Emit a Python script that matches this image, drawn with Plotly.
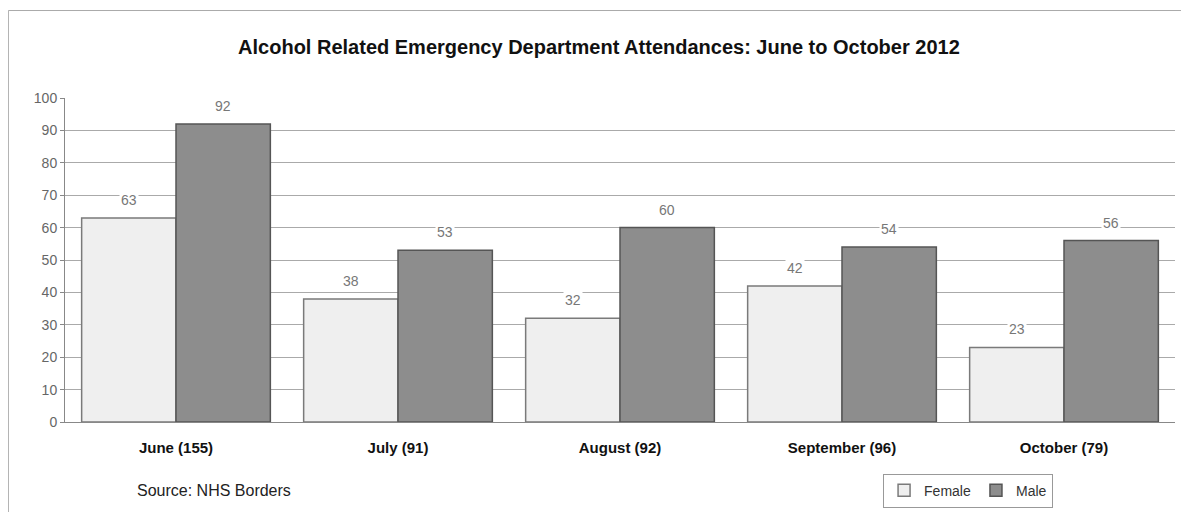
import plotly.graph_objects as go

months = ["June (155)", "July (91)", "August (92)", "September (96)", "October (79)"]
female = [63, 38, 32, 42, 23]
male = [92, 53, 60, 54, 56]

fig = go.Figure()
fig.add_trace(go.Bar(
    x=months, y=female, name="Female",
    marker=dict(color="#efefef", line=dict(color="#7a7a7a", width=1.5)),
))
fig.add_trace(go.Bar(
    x=months, y=male, name="Male",
    marker=dict(color="#8d8d8d", line=dict(color="#555555", width=1.5)),
))

# value labels with white background (they cut through the gridlines)
for vals, shift in ((female, -47), (male, 47)):
    for m, v in zip(months, vals):
        fig.add_annotation(x=m, y=v, xshift=shift, yshift=18, text=str(v),
                           showarrow=False, bgcolor="white",
                           font=dict(size=14, color="#777777"))

fig.add_annotation(text="Source: NHS Borders", xref="paper", yref="paper",
                   x=0.063, y=-0.212, xanchor="left", yanchor="middle",
                   showarrow=False, font=dict(size=16, color="#222222"))

# outer frame of the chart
fig.add_shape(type="rect", xref="paper", yref="paper",
              x0=-0.051, x1=1.007, y0=-0.35, y1=1.27,
              line=dict(color="#aaaaaa", width=1))

fig.update_layout(
    width=1189, height=512,
    margin=dict(l=57, r=22, t=90, b=96),
    paper_bgcolor="white", plot_bgcolor="white",
    font=dict(family="Liberation Sans, Arial, sans-serif"),
    title=dict(text="<b>Alcohol Related Emergency Department Attendances: June to October 2012</b>",
               x=0.497, xanchor="center", y=0.924, yanchor="middle",
               font=dict(size=20, color="#111111")),
    barmode="group", bargap=0.15, bargroupgap=0,
    showlegend=True,
    legend=dict(orientation="h", x=0.737, y=-0.212, xanchor="left", yanchor="middle",
                bordercolor="#999999", borderwidth=1, font=dict(size=14, color="#333333"),
                itemwidth=30, tracegroupgap=0),
    xaxis=dict(showline=True, linecolor="#888888", ticks="", ticklabelstandoff=12,
               tickfont=dict(size=15, color="#111111", weight="bold")),
    yaxis=dict(range=[0, 100], dtick=10, showgrid=True, gridcolor="#aaaaaa",
               showline=True, linecolor="#888888", ticks="outside", ticklen=4,
               tickcolor="#888888", zeroline=False,
               tickfont=dict(size=14, color="#666666")),
)

fig.write_html("out.html")
